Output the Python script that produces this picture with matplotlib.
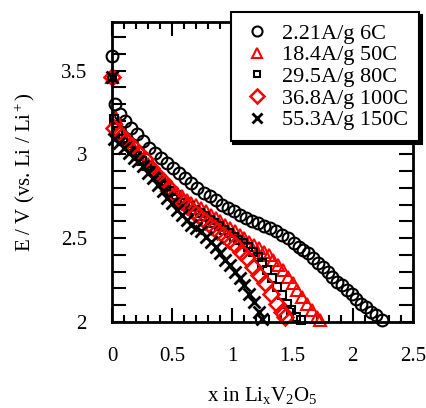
import numpy as np
from matplotlib import pyplot as plt
import matplotlib.ticker as mticker

plt.rcParams["font.family"] = ["Liberation Serif", "DejaVu Serif"]
plt.rcParams["mathtext.fontset"] = "custom"
plt.rcParams["mathtext.rm"] = "Liberation Serif"
plt.rcParams["mathtext.it"] = "Liberation Serif:italic"

# ----------------------------------------------------------------------
# DATA
# ----------------------------------------------------------------------

# 2.21 A/g, 6C
x_6c = [0.0, 0.025, 0.065, 0.11, 0.16, 0.21, 0.26, 0.31, 0.36, 0.41,
        0.46, 0.51, 0.56, 0.61, 0.66, 0.71, 0.76, 0.81, 0.86, 0.91,
        0.96, 1.01, 1.06, 1.11, 1.16, 1.21, 1.26, 1.31, 1.36, 1.41,
        1.46, 1.51, 1.55, 1.59, 1.63, 1.67, 1.71, 1.75, 1.79, 1.83,
        1.87, 1.91, 1.95, 1.99, 2.03, 2.07, 2.11, 2.15, 2.19, 2.24]
e_6c = [3.59, 3.30, 3.24, 3.20, 3.16, 3.12, 3.08, 3.04, 3.01, 2.98,
        2.95, 2.92, 2.89, 2.86, 2.83, 2.80, 2.77, 2.75, 2.73, 2.70,
        2.68, 2.66, 2.64, 2.62, 2.60, 2.59, 2.57, 2.56, 2.54, 2.52,
        2.50, 2.47, 2.45, 2.43, 2.41, 2.38, 2.35, 2.33, 2.30, 2.27,
        2.24, 2.22, 2.19, 2.17, 2.14, 2.11, 2.09, 2.06, 2.04, 2.01]

# 18.4 A/g, 50C
x_50c = [0.0, 0.03, 0.06, 0.10, 0.14, 0.18, 0.22, 0.26, 0.30, 0.34,
         0.38, 0.42, 0.46, 0.50, 0.54, 0.58, 0.62, 0.66, 0.70, 0.74,
         0.78, 0.82, 0.86, 0.90, 0.94, 0.98, 1.02, 1.06, 1.10, 1.14,
         1.18, 1.22, 1.26, 1.30, 1.34, 1.38, 1.42, 1.46, 1.50, 1.54,
         1.58, 1.62, 1.66, 1.70, 1.73]
e_50c = [3.46, 3.22, 3.15, 3.10, 3.06, 3.03, 3.00, 2.97, 2.94, 2.91,
         2.88, 2.85, 2.82, 2.80, 2.77, 2.75, 2.73, 2.71, 2.70, 2.68,
         2.66, 2.64, 2.62, 2.60, 2.58, 2.56, 2.54, 2.52, 2.50, 2.48,
         2.46, 2.44, 2.42, 2.40, 2.37, 2.34, 2.31, 2.27, 2.23, 2.19,
         2.15, 2.11, 2.07, 2.03, 2.01]

# 29.5 A/g, 80C
x_80c = [0.0, 0.02, 0.05, 0.09, 0.13, 0.17, 0.21, 0.25, 0.29, 0.33,
         0.37, 0.41, 0.45, 0.49, 0.53, 0.57, 0.61, 0.65, 0.69, 0.73,
         0.77, 0.81, 0.85, 0.89, 0.93, 0.97, 1.01, 1.05, 1.09, 1.13,
         1.17, 1.21, 1.25, 1.29, 1.33, 1.37, 1.41, 1.45, 1.49, 1.53,
         1.57]
e_80c = [3.46, 3.21, 3.14, 3.09, 3.05, 3.02, 2.99, 2.96, 2.93, 2.90,
         2.87, 2.84, 2.81, 2.78, 2.76, 2.73, 2.71, 2.69, 2.67, 2.65,
         2.63, 2.61, 2.59, 2.57, 2.55, 2.53, 2.51, 2.49, 2.47, 2.45,
         2.42, 2.39, 2.35, 2.31, 2.26, 2.21, 2.16, 2.11, 2.07, 2.03,
         2.01]

# 36.8 A/g, 100C
x_100c = [0.0, 0.02, 0.07, 0.12, 0.17, 0.22, 0.27, 0.32, 0.37, 0.42,
          0.47, 0.52, 0.57, 0.62, 0.67, 0.72, 0.77, 0.82, 0.87, 0.92,
          0.97, 1.02, 1.07, 1.12, 1.17, 1.22, 1.27, 1.32, 1.37, 1.41,
          1.44]
e_100c = [3.46, 3.16, 3.12, 3.08, 3.05, 3.01, 2.97, 2.92, 2.88, 2.84,
          2.80, 2.76, 2.72, 2.69, 2.66, 2.63, 2.60, 2.57, 2.54, 2.52,
          2.49, 2.46, 2.42, 2.38, 2.33, 2.28, 2.23, 2.17, 2.11, 2.06,
          2.03]

# 55.3 A/g, 150C
x_150c = [0.0, 0.02, 0.06, 0.10, 0.14, 0.18, 0.22, 0.26, 0.30, 0.34,
          0.38, 0.42, 0.46, 0.50, 0.54, 0.58, 0.62, 0.66, 0.70, 0.74,
          0.78, 0.82, 0.86, 0.90, 0.94, 0.98, 1.02, 1.06, 1.10, 1.14,
          1.18, 1.22, 1.25]
e_150c = [3.46, 3.09, 3.07, 3.04, 3.01, 2.98, 2.96, 2.93, 2.89, 2.86,
          2.82, 2.78, 2.74, 2.71, 2.67, 2.64, 2.61, 2.58, 2.56, 2.54,
          2.51, 2.48, 2.45, 2.41, 2.37, 2.34, 2.30, 2.26, 2.22, 2.17,
          2.12, 2.06, 2.02]

labels = ["2.21A/g 6C", "18.4A/g 50C", "29.5A/g 80C",
          "36.8A/g 100C", "55.3A/g 150C"]

# ----------------------------------------------------------------------
# STYLE per series
# ----------------------------------------------------------------------
SERIES = [
    (x_6c, e_6c, dict(marker="o", color="black", ms=8.5, mew=1.5)),
    (x_50c, e_50c, dict(marker="^", color="red", ms=8.5, mew=1.5)),
    (x_80c, e_80c, dict(marker="s", color="black", ms=5.5, mew=1.5)),
    (x_100c, e_100c, dict(marker="D", color="red", ms=8.0, mew=1.8)),
    (x_150c, e_150c, dict(marker="x", color="black", ms=9.0, mew=2.0)),
]

fig = plt.figure(figsize=(4.27, 4.08), dpi=100)
ax = fig.add_axes([112 / 427, 1 - 322 / 408, 301 / 427, 300 / 408])

for (xs, es, st), label in zip(SERIES, labels):
    ax.plot(xs, es, linestyle="none", marker=st["marker"], color=st["color"],
            markersize=st["ms"], markeredgewidth=st["mew"],
            markerfacecolor="none", label=label, clip_on=False)

ax.set_xlim(0, 2.5)
ax.set_ylim(2, 3.79)

ax.xaxis.set_major_locator(mticker.MultipleLocator(0.5))
ax.xaxis.set_minor_locator(mticker.MultipleLocator(0.1))
ax.yaxis.set_major_locator(mticker.MultipleLocator(0.5))
ax.yaxis.set_minor_locator(mticker.MultipleLocator(0.1))
ax.xaxis.set_major_formatter(mticker.FuncFormatter(lambda v, p: f"{v:g}"))
ax.yaxis.set_major_formatter(mticker.FuncFormatter(lambda v, p: f"{v:g}"))

ax.tick_params(axis="both", which="both", direction="in",
               top=True, right=True, width=1.5, labelsize=15, pad=18)
ax.tick_params(axis="x", which="major", length=10)
ax.tick_params(axis="x", which="minor", length=5)
ax.tick_params(axis="y", which="both", length=10)
for s in ax.spines.values():
    s.set_linewidth(2)

ax.set_xlabel(r"x in Li$_\mathrm{x}$V$_2$O$_5$", fontsize=15, labelpad=14)
ax.set_ylabel(r"E / V (vs. Li / Li$^+$)", fontsize=15)
ax.yaxis.set_label_coords(-0.25, 0.5)

leg = ax.legend(loc="upper right", bbox_to_anchor=(419 / 427, 1 - 12 / 408),
                bbox_transform=fig.transFigure, fontsize=16, frameon=True,
                fancybox=False, shadow={"color": "black", "alpha": 1},
                framealpha=1, edgecolor="black", handlelength=1.4,
                handletextpad=0.4, labelspacing=0.05, borderpad=0.5,
                borderaxespad=0, markerscale=0.85)
leg.get_frame().set_linewidth(1.5)

fig.savefig("out.png", dpi=100)
